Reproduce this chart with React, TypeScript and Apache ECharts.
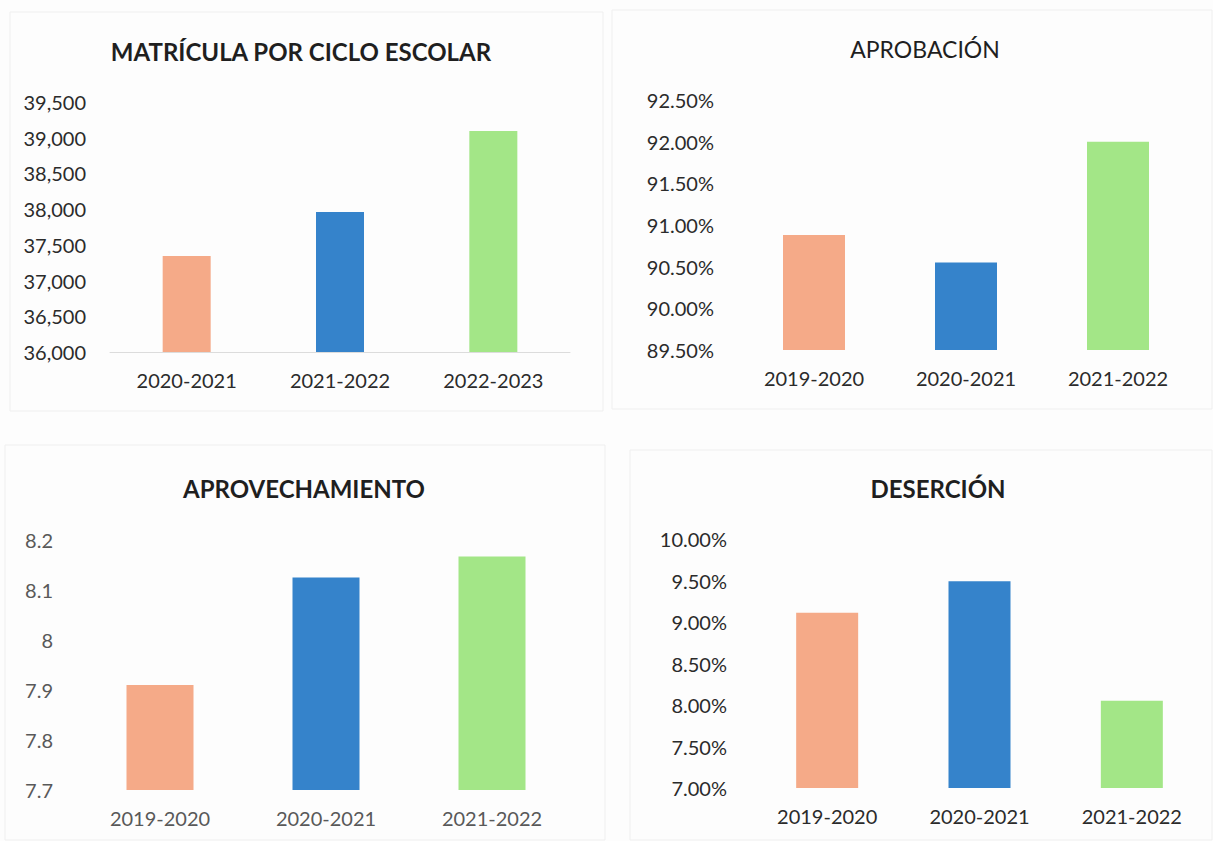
import React, { useEffect, useRef } from "react";
import * as echarts from "echarts";

const matriculaCats = ["2020-2021", "2021-2022", "2022-2023"];
const matriculaVals = [37345, 37960, 39095];

const aprobacionCats = ["2019-2020", "2020-2021", "2021-2022"];
const aprobacionVals = [90.88, 90.55, 92.0];

const aprovechamientoCats = ["2019-2020", "2020-2021", "2021-2022"];
const aprovechamientoVals = [7.91, 8.125, 8.167];

const desercionCats = ["2019-2020", "2020-2021", "2021-2022"];
const desercionVals = [9.11, 9.49, 8.05];

const barColors = ["#F5AA88", "#3583CB", "#A3E687"];

const FONT = "Lato, 'Open Sans', sans-serif";

export default function App() {
  const ref = useRef<HTMLDivElement>(null);
  useEffect(() => {
    if (!ref.current) return;
    const chart = echarts.init(ref.current, null, { renderer: "svg" });

    const panels = [
      {
        cats: matriculaCats, vals: matriculaVals, min: 36000, max: 39500, interval: 500,
        fmt: (v: number) => v.toLocaleString("en-US"),
        grid: { left: 110, right: 643, top: 102, bottom: 489 }, barWidth: 48,
        labelColor: "#2b2b2b", axisLine: true,
      },
      {
        cats: aprobacionCats, vals: aprobacionVals, min: 89.5, max: 92.5, interval: 0.5,
        fmt: (v: number) => v.toFixed(2) + "%",
        grid: { left: 738, right: 19, top: 100, bottom: 491 }, barWidth: 62,
        labelColor: "#2b2b2b", axisLine: false,
      },
      {
        cats: aprovechamientoCats, vals: aprovechamientoVals, min: 7.7, max: 8.2, interval: 0.1,
        fmt: (v: number) => String(parseFloat(v.toFixed(1))),
        grid: { left: 77, right: 638, top: 540, bottom: 51 }, barWidth: 67,
        labelColor: "#595959", axisLine: false,
      },
      {
        cats: desercionCats, vals: desercionVals, min: 7, max: 10, interval: 0.5,
        fmt: (v: number) => v.toFixed(2) + "%",
        grid: { left: 751, right: 5, top: 539, bottom: 53 }, barWidth: 62,
        labelColor: "#2b2b2b", axisLine: false,
      },
    ];

    const titles = [
      { text: "MATRÍCULA POR CICLO ESCOLAR", x: 301, y: 51, bold: true, size: 24 },
      { text: "APROBACIÓN", x: 925, y: 49, bold: false, size: 23 },
      { text: "APROVECHAMIENTO", x: 304, y: 488, bold: true, size: 24 },
      { text: "DESERCIÓN", x: 938, y: 488, bold: true, size: 24 },
    ];

    const borders = [
      { x: 10, y: 12, w: 593, h: 399 },
      { x: 612, y: 10, w: 600, h: 399 },
      { x: 5, y: 445, w: 600, h: 395 },
      { x: 630, y: 450, w: 582, h: 390 },
    ];

    chart.setOption({
      animation: false,
      backgroundColor: "#fdfdfd",
      textStyle: { fontFamily: FONT },
      grid: panels.map((p) => ({ ...p.grid, containLabel: false })),
      xAxis: panels.map((p, i) => ({
        type: "category",
        gridIndex: i,
        data: p.cats,
        axisTick: { show: false },
        axisLine: { show: p.axisLine, lineStyle: { color: "#dcdcdc", width: 1 } },
        axisLabel: { color: p.labelColor, fontSize: 20, fontFamily: FONT, margin: 18 },
      })),
      yAxis: panels.map((p, i) => ({
        type: "value",
        gridIndex: i,
        min: p.min,
        max: p.max,
        interval: p.interval,
        splitLine: { show: false },
        axisLine: { show: false },
        axisTick: { show: false },
        axisLabel: { color: p.labelColor, fontSize: 20, fontFamily: FONT, margin: 24, formatter: p.fmt },
      })),
      series: panels.map((p, i) => ({
        type: "bar",
        xAxisIndex: i,
        yAxisIndex: i,
        barWidth: p.barWidth,
        data: p.vals.map((v, j) => ({ value: v, itemStyle: { color: barColors[j] } })),
      })),
      graphic: [
        ...borders.map((b) => ({
          type: "rect",
          shape: { x: b.x, y: b.y, width: b.w, height: b.h },
          style: { fill: "none", stroke: "#efefef", lineWidth: 1 },
          silent: true,
        })),
        ...titles.map((t) => ({
          type: "text",
          x: t.x,
          y: t.y,
          style: {
            text: t.text,
            fill: "#1f1f1f",
            font: `${t.bold ? "bold " : ""}${t.size}px ${FONT}`,
            textAlign: "center",
            textVerticalAlign: "middle",
          },
        })),
      ],
    });

    return () => chart.dispose();
  }, []);

  return (
    <div
      ref={ref}
      style={{ position: "fixed", left: 0, top: 0, width: 1213, height: 841 }}
    />
  );
}
